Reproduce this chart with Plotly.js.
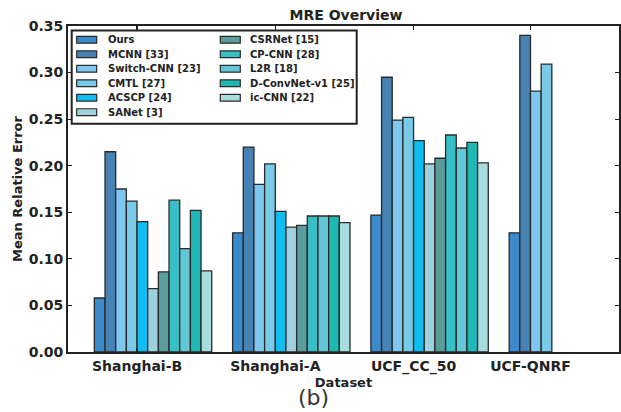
<!DOCTYPE html>
<html>
<head>
<meta charset="utf-8">
<script src="https://cdn.plot.ly/plotly-3.0.1.min.js"></script>
<style>html,body{margin:0;padding:0;background:#fff;}#chart{width:621px;height:412px;}</style>
</head>
<body>
<div id="chart"></div>
<script>
// ---- data ----
const datasets = ["Shanghai-B", "Shanghai-A", "UCF_CC_50", "UCF-QNRF"];
const methods = ["Ours", "MCNN [33]", "Switch-CNN [23]", "CMTL [27]", "ACSCP [24]", "SANet [3]",
                 "CSRNet [15]", "CP-CNN [28]", "L2R [18]", "D-ConvNet-v1 [25]", "ic-CNN [22]"];
const colors = ["#3b8bca", "#4682b4", "#7ec8f0", "#78cae6", "#10bdf0", "#9fd0de",
                "#5b9c9c", "#38bfc5", "#62c8d8", "#20b8b4", "#a8dcde"];
const ours      = [0.058, 0.128, 0.147, 0.128];
const mcnn      = [0.215, 0.220, 0.295, 0.340];
const switchCnn = [0.175, 0.180, 0.249, 0.280];
const cmtl      = [0.162, 0.202, 0.252, 0.309];
const acscp     = [0.140, 0.151, 0.227, null];
const sanet     = [0.068, 0.134, 0.202, null];
const csrnet    = [0.086, 0.136, 0.208, null];
const cpcnn     = [0.163, 0.146, 0.233, null];
const l2r       = [0.111, 0.146, 0.219, null];
const dconvnet  = [0.152, 0.146, 0.225, null];
const iccnn     = [0.087, 0.139, 0.203, null];
const series = [ours, mcnn, switchCnn, cmtl, acscp, sanet, csrnet, cpcnn, l2r, dconvnet, iccnn];
const yTicks = [0, 0.05, 0.10, 0.15, 0.20, 0.25, 0.30, 0.35];

// ---- layout params ----
const W = 621, H = 412;
const L = 68, R = 2, T = 26, B = 59.5;
const pw = W - L - R, ph = H - T - B;
const bargap = 0.151;
const bw = (1 - bargap) / methods.length;
const xIdx = datasets.map((d, i) => i);
// tick positions: at start of 5th bar for full groups, middle of 4-bar group for last
const tickPos = xIdx.map(i => i === 3 ? i - (1 - bargap) / 2 + 2 * bw : i - 1.5 * bw);

const bold = (s, c) => ({family: "DejaVu Sans", size: s, color: c || "#222", weight: "bold"});

const traces = methods.map((m, k) => ({
  type: "bar",
  name: m,
  x: xIdx,
  y: series[k],
  marker: {color: colors[k], line: {color: "#2a2a2a", width: 1.3}},
  showlegend: false,
  hoverinfo: "skip"
}));

// custom legend (matplotlib-like compact box)
const px2x = p => (p - L) / pw;
const px2y = p => (H - B - p) / ph;
const shapes = [];
const annotations = [];
shapes.push({type: "rect", xref: "paper", yref: "paper",
  x0: px2x(71.7), x1: px2x(356.7), y0: px2y(124), y1: px2y(30.5),
  line: {color: "#222", width: 2}, fillcolor: "#fff", layer: "above"});
methods.forEach((m, k) => {
  const col = k < 6 ? 0 : 1;
  const row = k < 6 ? k : k - 6;
  const cy = 39.8 + row * 14.5;
  const sx = col === 0 ? 76.7 : 220.3;
  const tx = col === 0 ? 105.5 : 248.3;
  shapes.push({type: "rect", xref: "paper", yref: "paper",
    x0: px2x(sx), x1: px2x(sx + 20), y0: px2y(cy + 3.4), y1: px2y(cy - 3.4),
    fillcolor: colors[k], line: {color: "#2a2a2a", width: 1.2}, layer: "above"});
  annotations.push({xref: "paper", yref: "paper", x: px2x(tx), y: px2y(cy),
    xanchor: "left", yanchor: "middle", showarrow: false, text: m,
    font: bold(10)});
});
annotations.push({xref: "paper", yref: "paper", x: px2x(313), y: px2y(398),
  xanchor: "center", yanchor: "middle", showarrow: false, text: "(b)",
  font: {family: "DejaVu Sans", size: 22, color: "#333", weight: "normal"}});

const layout = {
  width: W, height: H,
  margin: {l: L, r: R, t: T, b: B, pad: 0},
  paper_bgcolor: "#fff", plot_bgcolor: "#fff",
  barmode: "group", bargap: bargap, bargroupgap: 0,
  font: {family: "DejaVu Sans", color: "#222"},
  title: {text: "MRE Overview", x: px2x(346), xref: "paper", xanchor: "center",
          y: 1 - 15 / H, yref: "container", yanchor: "middle",
          font: bold(14)},
  xaxis: {
    range: [-0.615, 3.37], tickmode: "array", tickvals: tickPos, ticktext: datasets,
    showgrid: false, zeroline: false, showline: true, linecolor: "#222", linewidth: 2,
    mirror: "ticks", ticks: "inside", ticklen: 4, tickcolor: "#222", tickwidth: 1.2,
    tickfont: bold(14),
    title: {text: "Dataset", standoff: 2, font: bold(13)}
  },
  yaxis: {
    range: [0, 0.35], tickmode: "array", tickvals: yTicks, tickformat: ".2f",
    showgrid: false, zeroline: false, showline: true, linecolor: "#222", linewidth: 2,
    mirror: "ticks", ticks: "inside", ticklen: 4, tickcolor: "#222", tickwidth: 1.2,
    tickfont: bold(14),
    title: {text: "Mean Relative Error", standoff: 3, font: bold(13)}
  },
  shapes: shapes,
  annotations: annotations
};

Plotly.newPlot("chart", traces, layout, {staticPlot: true, displayModeBar: false});
</script>
</body>
</html>
